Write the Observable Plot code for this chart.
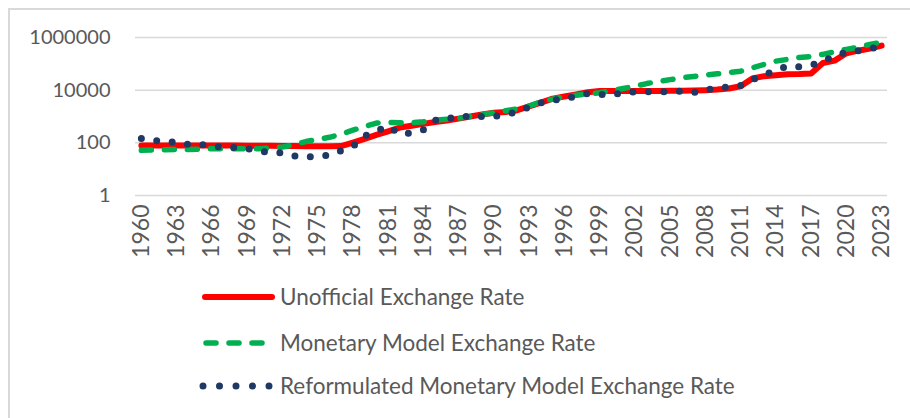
<!DOCTYPE html>
<html><head><meta charset="utf-8">
<script src="https://cdn.jsdelivr.net/npm/d3@7"></script>
<script src="https://cdn.jsdelivr.net/npm/@observablehq/plot@0.6"></script>
<style>
body{margin:0;background:#fff;font-family:Lato,"Open Sans",sans-serif;}
#wrap{position:relative;width:910px;height:418px;overflow:hidden;background:#fff;}
#border{position:absolute;left:8px;top:8px;width:1200px;height:1200px;border-left:2px solid #d9d9d9;border-top:2px solid #d9d9d9;box-sizing:border-box;}
#chart,#legend{position:relative;}
svg{display:block;}
</style></head><body>
<div id="wrap"><div id="border"></div><div id="chart"></div><div id="legend"></div></div>
<script>
const years = d3.range(1960, 2024);
const seriesNames = ["Unofficial Exchange Rate", "Monetary Model Exchange Rate", "Reformulated Monetary Model Exchange Rate"];
const xTickLabels = [1960,1963,1966,1969,1972,1975,1978,1981,1984,1987,1990,1993,1996,1999,2002,2005,2008,2011,2014,2017,2020,2023];
const yTickValues = [1, 100, 10000, 1000000];

const unofficial = [
  80,80,80,80,80,80,80,80,79,78,
  78,77,76,75,74,74,74,75,102,141,
  200,275,380,447,525,617,708,832,1000,1200,
  1380,1480,1740,2400,3390,4790,5750,6900,8300,9300,
  9300,9300,9300,9300,9300,9400,9500,9700,10000,10500,
  11500,14000,28000,34000,37000,40000,41000,43000,107000,132000,
  251000,316000,380000,490000
];
const monetary = [
  52,54,55,56,56,58,60,60,60,60,
  60,63,69,85,112,135,162,214,302,417,
  562,603,575,575,631,724,794,851,1000,1175,
  1380,1660,1950,2510,3630,4570,5620,6460,7240,7940,
  9550,11500,14100,17800,21400,25100,29500,33100,37200,41700,
  46800,52500,70800,95500,126000,148000,174000,191000,229000,288000,
  355000,427000,550000,661000
];
const reformulated = [
  145,123,115,105,87,87,76,66,66,60,
  50,42,42,32,28,32,33,50,72,182,
  282,437,214,240,316,708,912,832,1100,1000,
  1000,1200,1500,2340,3300,4270,4570,6030,7400,6900,
  6600,7900,8700,8700,8700,8900,9100,8100,10200,12000,
  13500,14800,25000,38000,56000,83000,78000,89000,126000,195000,
  282000,316000,380000,457000
];

const rows = (vals) => years.map((year, i) => ({year, value: vals[i]}));

const chart = Plot.plot({
  width: 910, height: 270,
  marginTop: 37, marginBottom: 75, marginLeft: 135, marginRight: 23,
  style: {fontFamily: "Lato, 'Open Sans', sans-serif", fontSize: "20px", color: "#595959", background: "transparent", overflow: "visible"},
  x: {type: "linear", domain: [1959.5, 2023.5], label: null},
  y: {type: "log", domain: [1, 1000000], label: null},
  marks: [
    Plot.gridY(yTickValues, {stroke: "#d9d9d9", strokeOpacity: 1, strokeWidth: 1.5}),
    Plot.axisY(yTickValues, {tickFormat: d => String(d), tickSize: 0, tickPadding: 25, fontSize: 20, label: null}),
    Plot.axisX(xTickLabels, {tickFormat: d => String(d), tickRotate: -90, tickSize: 0, tickPadding: 9, fontSize: 23, label: null}),
    Plot.line(rows(unofficial), {x: "year", y: "value", stroke: "#ff0000", strokeWidth: 6, strokeLinejoin: "round", strokeLinecap: "round"}),
    Plot.line(rows(monetary), {x: "year", y: "value", stroke: "#00b050", strokeWidth: 5.5, strokeDasharray: "10,13", strokeLinejoin: "round", strokeLinecap: "round"}),
    Plot.line(rows(reformulated), {x: "year", y: "value", stroke: "#203864", strokeWidth: 7, strokeDasharray: "0,15.5", strokeLinejoin: "round", strokeLinecap: "round"})
  ]
});
document.getElementById("chart").appendChild(chart);

// Legend below the chart
const legendStyles = [
  {color: "#ff0000", width: 6, dash: null, x1: 205, x2: 272},
  {color: "#00b050", width: 5.5, dash: "10,13", x1: 206, x2: 268},
  {color: "#203864", width: 7, dash: "0,16.5", x1: 203, x2: 269.5}
];
const legendRowY = [27, 73, 116];
const lsvg = d3.select("#legend").append("svg").attr("width", 910).attr("height", 148)
  .style("font-family", "Lato, 'Open Sans', sans-serif");
seriesNames.forEach((name, i) => {
  const s = legendStyles[i], y = legendRowY[i];
  lsvg.append("line").attr("x1", s.x1).attr("x2", s.x2).attr("y1", y).attr("y2", y)
    .attr("stroke", s.color).attr("stroke-width", s.width).attr("stroke-linecap", "round")
    .attr("stroke-dasharray", s.dash);
  lsvg.append("text").attr("x", 280).attr("y", y).attr("dy", "0.35em")
    .attr("fill", "#595959").attr("font-size", 22.5).text(name);
});
</script>
</body></html>
